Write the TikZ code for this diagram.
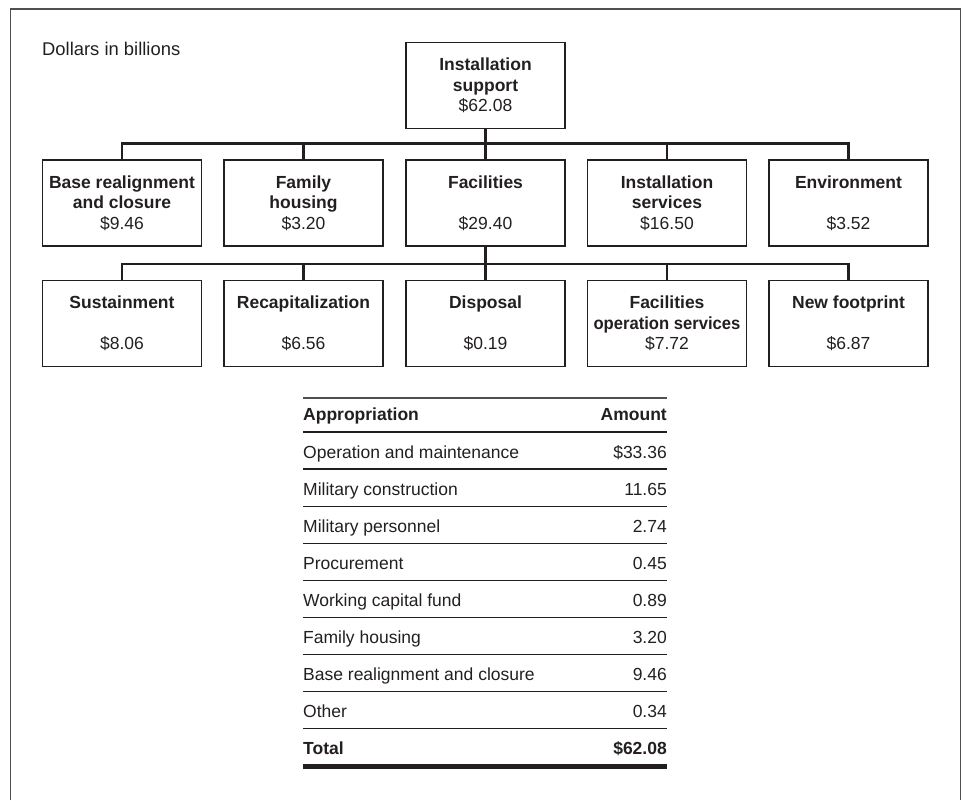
\documentclass[tikz,border=0pt]{standalone}
\usepackage{fontspec}
\usepackage{graphicx}
\setmainfont{Liberation Sans}
\definecolor{ink}{RGB}{35,31,32}
\definecolor{framec}{RGB}{80,80,80}
\begin{document}
\begin{tikzpicture}[x=1pt,y=-1pt,
  every node/.style={font=\fontsize{17.5}{20.5}\selectfont, text=ink},
  box/.style={draw=ink, line width=1.3pt, minimum width=159pt, minimum height=86pt, inner sep=0pt, align=center},
  conn/.style={draw=ink, line width=2.6pt},
  rulethin/.style={draw=ink, line width=1.3pt},
  rulethick/.style={draw=ink, line width=5pt},
  cellL/.style={anchor=base west, inner sep=0pt},
  cellR/.style={anchor=base east, inner sep=0pt}]
\useasboundingbox (0,0) rectangle (965,800);
% frame
\draw[framec, line width=1.8pt] (10.5,800) -- (10.5,9) -- (960.5,9) -- (960.5,800);
\node[anchor=base west, inner sep=0pt, font=\fontsize{18.4}{21}\selectfont] (unit) at (42,56) {Dollars in billions};
% org chart
\node[box] (top) at (485.5,85.5) {\textbf{Installation}\\\textbf{support}\\\$62.08};
\node[box] (a1) at (122,203) {\textbf{Base realignment}\\\textbf{and closure}\\\$9.46};
\node[box] (a2) at (303.5,203) {\textbf{Family}\\\textbf{housing}\\\$3.20};
\node[box] (a3) at (485.5,203) {\textbf{Facilities}\\[20.5pt]\$29.40};
\node[box] (a4) at (667,203) {\textbf{Installation}\\\textbf{services}\\\$16.50};
\node[box] (a5) at (848.5,203) {\textbf{Environment}\\[20.5pt]\$3.52};
\node[box] (b1) at (122,323.5) {\textbf{Sustainment}\\[20.5pt]\$8.06};
\node[box] (b2) at (303.5,323.5) {\textbf{Recapitalization}\\[20.5pt]\$6.56};
\node[box] (b3) at (485.5,323.5) {\textbf{Disposal}\\[20.5pt]\$0.19};
\node[box] (b4) at (667,323.5) {\textbf{Facilities}\\\scalebox{0.95}[1]{\textbf{operation services}}\\\$7.72};
\node[box] (b5) at (848.5,323.5) {\textbf{New footprint}\\[20.5pt]\$6.87};
\coordinate (j1) at (485.5,143.5);
\coordinate (j2) at (485.5,264);
\draw[conn] (top.south) -- (j1);
\draw[conn] (a1.north) -- (a1.north |- j1) -- (a5.north |- j1) -- (a5.north);
\foreach \n in {a2,a3,a4} \draw[conn] (\n.north) -- (\n.north |- j1);
\draw[conn] (a3.south) -- (j2);
\draw[conn] (b1.north) -- (b1.north |- j2) -- (b5.north |- j2) -- (b5.north);
\foreach \n in {b2,b3,b4} \draw[conn] (\n.north) -- (\n.north |- j2);
% table
\draw[framec, line width=1.5pt] (303,398) -- (667,398);
\node[cellL] (h1) at (303,420) {\textbf{Appropriation}};
\node[cellR] (h2) at (667,420) {\textbf{Amount}};
\foreach \i in {0,...,8} \draw[rulethin] (303,432+37.1*\i) -- (667,432+37.1*\i);
\draw[rulethick] (303,766.5) -- (667,766.5);
\node[cellL] (r1) at (303,458) {Operation and maintenance};
\node[cellR] (v1) at (667,458) {\$33.36};
\node[cellL] (r2) at (303,495.1) {Military construction};
\node[cellR] (v2) at (667,495.1) {11.65};
\node[cellL] (r3) at (303,532.2) {Military personnel};
\node[cellR] (v3) at (667,532.2) {2.74};
\node[cellL] (r4) at (303,569.3) {Procurement};
\node[cellR] (v4) at (667,569.3) {0.45};
\node[cellL] (r5) at (303,606.4) {Working capital fund};
\node[cellR] (v5) at (667,606.4) {0.89};
\node[cellL] (r6) at (303,643.5) {Family housing};
\node[cellR] (v6) at (667,643.5) {3.20};
\node[cellL] (r7) at (303,680.6) {Base realignment and closure};
\node[cellR] (v7) at (667,680.6) {9.46};
\node[cellL] (r8) at (303,717.7) {Other};
\node[cellR] (v8) at (667,717.7) {0.34};
\node[cellL] (r9) at (303,754.8) {\textbf{Total}};
\node[cellR] (v9) at (667,754.8) {\textbf{\$62.08}};
\end{tikzpicture}
\end{document}
